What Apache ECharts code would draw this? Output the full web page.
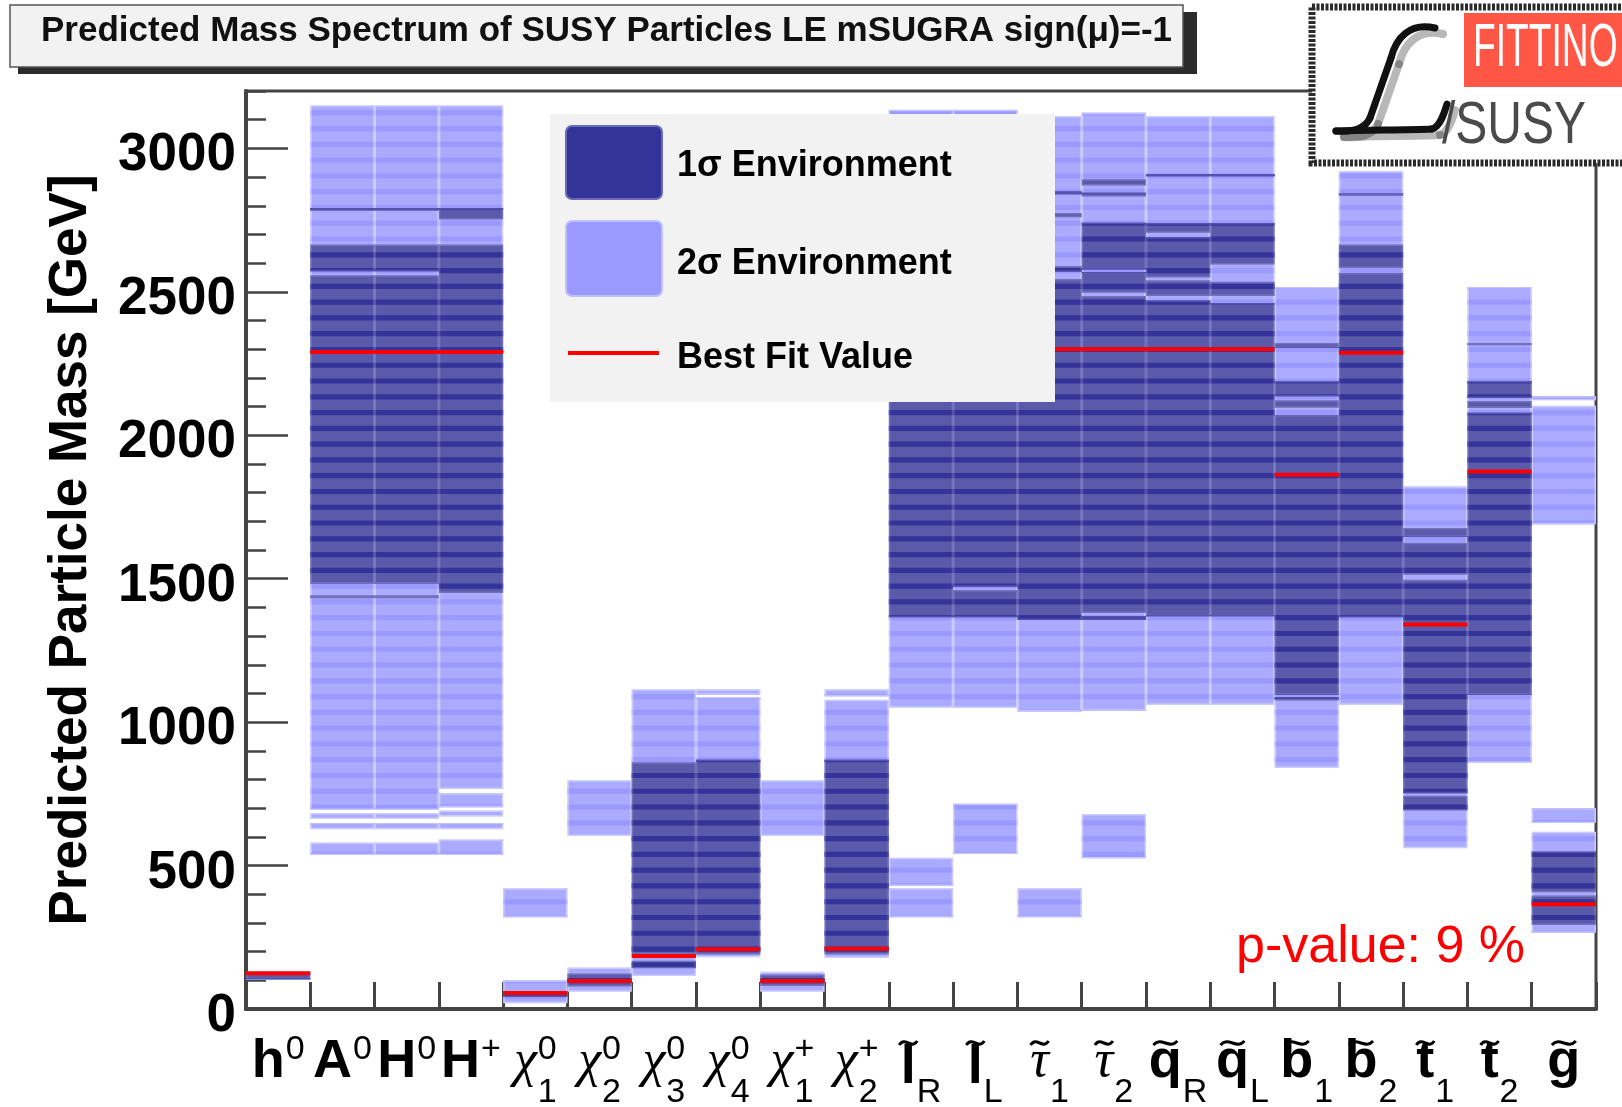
<!DOCTYPE html>
<html>
<head>
<meta charset="utf-8">
<script src="https://cdn.jsdelivr.net/npm/echarts@6/dist/echarts.min.js"></script>
<style>
  html, body { margin: 0; padding: 0; background: #ffffff; }
  #chart { width: 1622px; height: 1107px; }
</style>
</head>
<body>
<div id="chart"></div>
<script>
// Particle categories along the x axis
const categories = ['h0', 'A0', 'H0', 'H+', 'chi1_0', 'chi2_0', 'chi3_0', 'chi4_0', 'chi1_+', 'chi2_+',
  'slR', 'slL', 'stau1', 'stau2', 'sqR', 'sqL', 'sb1', 'sb2', 'st1', 'st2', 'gluino'];

// Label pieces: main symbol, superscript, subscript, tilde flag
const labelBase  = ['h', 'A', 'H', 'H', 'χ', 'χ', 'χ', 'χ', 'χ', 'χ', 'l', 'l', 'τ', 'τ', 'q', 'q', 'b', 'b', 't', 't', 'g'];
const labelSup   = ['0', '0', '0', '+', '0', '0', '0', '0', '+', '+', '', '', '', '', '', '', '', '', '', '', ''];
const labelSub   = ['', '', '', '', '1', '2', '3', '4', '1', '2', 'R', 'L', '1', '2', 'R', 'L', '1', '2', '1', '2', ''];
const labelTilde = [false, false, false, false, false, false, false, false, false, false,
  true, true, true, true, true, true, true, true, true, true, true];

// 2 sigma mass ranges [GeV] per particle
const sigma2Ranges = [
  [[101, 130]],
  [[537, 580], [627, 648], [662, 683], [694, 3150]],
  [[537, 580], [627, 648], [662, 683], [694, 3150]],
  [[537, 590], [627, 648], [671, 692], [703, 752], [767, 3150]],
  [[20, 99], [320, 421]],
  [[60, 145], [603, 797]],
  [[115, 1115]],
  [[180, 1088], [1095, 1115]],
  [[60, 130], [603, 797]],
  [[178, 1078], [1090, 1115]],
  [[320, 421], [430, 527], [1050, 3135]],
  [[540, 716], [1049, 3135]],
  [[320, 421], [1037, 3113]],
  [[525, 680], [1040, 3124]],
  [[1060, 3113]],
  [[1060, 3113]],
  [[840, 2517]],
  [[1060, 2921]],
  [[560, 1822]],
  [[858, 2517]],
  [[266, 618], [648, 700], [1690, 2103], [2122, 2136]]
];

// 1 sigma mass ranges [GeV] per particle
const sigma1Ranges = [
  [[104, 127]],
  [[1432, 1442], [1482, 2558], [2572, 2665], [2782, 2792]],
  [[1432, 1442], [1482, 2558], [2572, 2665], [2782, 2792]],
  [[1450, 2665], [2752, 2792]],
  [[42, 62]],
  [[78, 124]],
  [[142, 168], [192, 860]],
  [[190, 869]],
  [[80, 120]],
  [[190, 869]],
  [[1366, 2740]],
  [[1366, 1461], [1472, 2740]],
  [[1356, 2545], [2570, 2590], [2760, 2775], [2840, 2850]],
  [[1357, 1370], [1380, 2485], [2497, 2569], [2578, 2741], [2832, 2845], [2871, 2892]],
  [[1369, 2470], [2485, 2540], [2550, 2690], [2706, 2740], [2903, 2911]],
  [[1369, 2461], [2485, 2535], [2595, 2740], [2903, 2911]],
  [[1075, 1088], [1095, 2071], [2096, 2122], [2136, 2188], [2305, 2322]],
  [[1366, 2566], [2583, 2665], [2834, 2843]],
  [[692, 743], [752, 1496], [1514, 1625], [1645, 1677]],
  [[1095, 2078], [2095, 2119], [2130, 2188], [2314, 2322]],
  [[293, 396], [407, 549]]
];

// Best fit mass [GeV] per particle
const bestFit = [125, 2290, 2290, 2290, 56, 98, 185, 208, 98, 210,
  2300, 2300, 2300, 2300, 2300, 2300, 1862, 2288, 1340, 1874, 365];

const yMajorTicks = [0, 500, 1000, 1500, 2000, 2500, 3000];
const pValueText = 'p-value: 9 %';

// Histogram bin texture (GeV): every bin has a darker band
const BIN = 55, BAND_FROM = 35, BAND_TO = 53;

function toRows(ranges) {
  const rows = [];
  ranges.forEach((list, i) => list.forEach(r => rows.push([i, r[0], r[1]])));
  return rows;
}

function bandRenderer(base, band, edge) {
  return function (params, api) {
    const i = api.value(0), lo = api.value(1), hi = api.value(2);
    const w = api.size([1, 0])[0];
    const pLo = api.coord([i, lo]), pHi = api.coord([i, hi]);
    const x = pLo[0] - w / 2;
    const children = [{
      type: 'rect',
      shape: { x: x, y: pHi[1], width: w, height: pLo[1] - pHi[1] },
      style: { fill: base }
    }];
    for (let k = Math.floor(lo / BIN); k * BIN <= hi; k++) {
      const s0 = Math.max(lo, k * BIN + BAND_FROM), s1 = Math.min(hi, k * BIN + BAND_TO);
      if (s1 <= s0) continue;
      const a = api.coord([i, s0]), b = api.coord([i, s1]);
      children.push({
        type: 'rect',
        shape: { x: x, y: b[1], width: w, height: a[1] - b[1] },
        style: { fill: band }
      });
    }
    children.push({
      type: 'rect',
      shape: { x: x + 0.75, y: pHi[1] + 0.75, width: w - 1.5, height: Math.max(0, pLo[1] - pHi[1] - 1.5) },
      style: { fill: 'none', stroke: edge, lineWidth: 1.5 }
    });
    return { type: 'group', children: children };
  };
}

function renderBest(params, api) {
  const i = api.value(0), v = api.value(1);
  const w = api.size([1, 0])[0];
  const p = api.coord([i, v]);
  return {
    type: 'rect',
    shape: { x: p[0] - w / 2, y: p[1] - 2, width: w, height: 4 },
    style: { fill: '#ff0000' }
  };
}

// Particle symbol labels under the axis
const measureCtx = document.createElement('canvas').getContext('2d');
function textWidth(str, font) {
  if (!str) return 0;
  measureCtx.font = font;
  return measureCtx.measureText(str).width;
}
const FONT_BASE = 'bold 54px "Liberation Sans"';
const FONT_GREEK = 'italic 52px "Liberation Serif"';
const FONT_SCRIPT = '34px "Liberation Sans"';

function renderLabel(params, api) {
  const i = api.value(0);
  const pt = api.coord([i, 0]);
  const cx = pt[0], axisY = pt[1];
  const base = labelBase[i];
  const greek = base === 'χ' || base === 'τ';
  const baseFont = greek ? FONT_GREEK : FONT_BASE;
  const bw = textWidth(base, baseFont);
  const sw = Math.max(textWidth(labelSup[i], FONT_SCRIPT), textWidth(labelSub[i], FONT_SCRIPT));
  const gap = sw > 0 ? 1 : 0;
  const x0 = cx - (bw + gap + sw) / 2;
  let baseline = axisY + 72;
  if (base === 'l') baseline = axisY + 78;
  if (greek) baseline = axisY + 71;
  const sizeBase = greek ? 52 : 54;
  const children = [{
    type: 'text',
    style: { text: base, x: x0, y: baseline - 0.3465 * sizeBase, font: baseFont, fill: '#000', align: 'left', verticalAlign: 'middle' }
  }];
  const sx = x0 + bw + gap;
  if (labelSup[i]) {
    children.push({
      type: 'text',
      style: { text: labelSup[i], x: sx, y: axisY + 52 - 0.3465 * 34, font: FONT_SCRIPT, fill: '#000', align: 'left', verticalAlign: 'middle' }
    });
  }
  if (labelSub[i]) {
    children.push({
      type: 'text',
      style: { text: labelSub[i], x: sx, y: axisY + 95 - 0.3465 * 34, font: FONT_SCRIPT, fill: '#000', align: 'left', verticalAlign: 'middle' }
    });
  }
  if (labelTilde[i]) {
    const tc = x0 + bw / 2, tw = Math.min(Math.max(bw * 0.8, 18), 24), ty = axisY + 34;
    children.push({
      type: 'bezierCurve',
      shape: { x1: tc - tw / 2, y1: ty + 2, x2: tc + tw / 2, y2: ty - 2, cpx1: tc - tw / 6, cpy1: ty - 7, cpx2: tc + tw / 6, cpy2: ty + 7 },
      style: { stroke: '#000', lineWidth: 3, fill: null }
    });
  }
  return { type: 'group', children: children };
}

// Script "L" of the logo, built from curve pieces
function logoStroke(dx, dy, color, width, z) {
  const seg = (x1, y1, c1x, c1y, c2x, c2y, x2, y2) => ({
    type: 'bezierCurve', z: z,
    shape: { x1: x1 + dx, y1: y1 + dy, cpx1: c1x + dx, cpy1: c1y + dy, cpx2: c2x + dx, cpy2: c2y + dy, x2: x2 + dx, y2: y2 + dy },
    style: { stroke: color, lineWidth: width, fill: null, lineCap: 'round' }
  });
  return [
    seg(1435, 28, 1410, 22, 1396, 38, 1391, 58),
    seg(1391, 58, 1384, 78, 1377, 98, 1370, 118),
    seg(1370, 118, 1364, 131, 1348, 132, 1336, 131),
    seg(1336, 131, 1370, 130, 1405, 130, 1432, 129),
    seg(1432, 129, 1440, 127, 1444, 114, 1447, 104)
  ];
}

const chart = echarts.init(document.getElementById('chart'), null, { renderer: 'canvas' });

const AXIS_COLOR = '#444444';
const option = {
  animation: false,
  backgroundColor: '#ffffff',
  grid: { left: 246, right: 26, top: 91, bottom: 98, show: true, borderColor: AXIS_COLOR, borderWidth: 3, backgroundColor: 'transparent' },
  xAxis: {
    type: 'category',
    data: categories,
    boundaryGap: true,
    axisLine: { lineStyle: { color: AXIS_COLOR, width: 4 } },
    axisTick: { show: true, inside: true, length: 27, interval: 0, alignWithLabel: false, lineStyle: { color: AXIS_COLOR, width: 3 } },
    axisLabel: { show: false },
    splitLine: { show: false }
  },
  yAxis: [{
    type: 'value', min: 0, max: 3200, interval: 500, position: 'left',
    axisLine: { show: true, lineStyle: { color: AXIS_COLOR, width: 4 } },
    axisTick: { show: true, inside: true, length: 42, customValues: yMajorTicks, lineStyle: { color: AXIS_COLOR, width: 2.5 } },
    axisLabel: { customValues: yMajorTicks, formatter: v => String(v), fontSize: 53, fontWeight: 'bold', color: '#000',
      fontFamily: 'Liberation Sans', margin: 10, verticalAlign: 'top', lineHeight: 15 },
    splitLine: { show: false },
    name: 'Predicted Particle Mass [GeV]',
    nameLocation: 'middle', nameRotate: 90, nameGap: 148,
    nameTextStyle: { fontSize: 53, fontWeight: 'bold', color: '#000', fontFamily: 'Liberation Sans' }
  }, {
    type: 'value', min: 0, max: 3200, interval: 100, position: 'left',
    axisLine: { show: false },
    axisTick: { show: true, inside: true, length: 20, lineStyle: { color: AXIS_COLOR, width: 2.5 } },
    axisLabel: { show: false },
    splitLine: { show: false }
  }],
  series: [
    {
      name: '2σ Environment', type: 'custom', yAxisIndex: 0,
      renderItem: bandRenderer('#aaaaff', '#9999ff', 'rgba(255,255,255,0.4)'),
      encode: { x: 0, y: [1, 2] }, data: toRows(sigma2Ranges), z: 2
    },
    {
      name: '1σ Environment', type: 'custom', yAxisIndex: 0,
      renderItem: bandRenderer('#5a5aaa', '#333399', 'rgba(200,200,255,0.22)'),
      encode: { x: 0, y: [1, 2] }, data: toRows(sigma1Ranges), z: 3
    },
    {
      name: 'Best Fit Value', type: 'custom', yAxisIndex: 0,
      renderItem: renderBest,
      encode: { x: 0, y: 1 }, data: bestFit.map((v, i) => [i, v]), z: 4
    },
    {
      name: 'labels', type: 'custom', yAxisIndex: 0, clip: false, silent: true,
      renderItem: renderLabel,
      encode: { x: 0, y: 1 }, data: categories.map((c, i) => [i, 0]), z: 5
    }
  ],
  graphic: [
    // title box with drop shadow
    { type: 'rect', z: 100, shape: { x: 18, y: 12, width: 1179, height: 62 }, style: { fill: '#2b2b2b' } },
    { type: 'rect', z: 101, shape: { x: 10, y: 5, width: 1173, height: 62 }, style: { fill: '#f2f2f2', stroke: '#555', lineWidth: 1.5 } },
    { type: 'text', z: 102, style: { text: 'Predicted Mass Spectrum of SUSY Particles LE mSUGRA sign(μ)=-1', x: 41, y: 31,
        font: 'bold 35px "Liberation Sans"', fill: '#111', align: 'left', verticalAlign: 'middle' } },

    // logo
    { type: 'rect', z: 100, shape: { x: 1312, y: 7, width: 316, height: 156 }, style: { fill: '#ffffff', stroke: '#2a2a2a', lineWidth: 7, lineDash: [3, 1.5] } },
    { type: 'rect', z: 101, shape: { x: 1464, y: 13, width: 158, height: 74 }, style: { fill: '#ff5646' } },
    { type: 'text', z: 102, x: 1473, y: 49, scaleX: 0.6,
      style: { text: 'FITTINO', x: 0, y: 0, font: '62px "Liberation Sans"', fill: '#ffffff', align: 'left', verticalAlign: 'middle' } },
    { type: 'text', z: 102, x: 1442, y: 126, scaleX: 0.8,
      style: { text: '/SUSY', x: 0, y: 0, font: '60px "Liberation Sans"', fill: '#4a4a4a', align: 'left', verticalAlign: 'middle' } },
    ...logoStroke(8, 6, 'rgba(0,0,0,0.28)', 8, 101),
    ...logoStroke(0, 0, '#111111', 7, 102),

    // legend
    { type: 'rect', z: 100, shape: { x: 550, y: 114, width: 505, height: 288 }, style: { fill: '#f2f2f2' } },
    { type: 'rect', z: 101, shape: { x: 566, y: 126, width: 96, height: 73, r: 6 }, style: { fill: '#333399', stroke: '#6a6ab8', lineWidth: 2 } },
    { type: 'rect', z: 101, shape: { x: 566, y: 221, width: 96, height: 75, r: 6 }, style: { fill: '#9999ff', stroke: '#c0c0ff', lineWidth: 2 } },
    { type: 'rect', z: 101, shape: { x: 568, y: 351, width: 91, height: 4 }, style: { fill: '#ff0000' } },
    { type: 'text', z: 102, style: { text: '1σ Environment', x: 677, y: 166, font: 'bold 36px "Liberation Sans"', fill: '#000', align: 'left', verticalAlign: 'middle' } },
    { type: 'text', z: 102, style: { text: '2σ Environment', x: 677, y: 264, font: 'bold 36px "Liberation Sans"', fill: '#000', align: 'left', verticalAlign: 'middle' } },
    { type: 'text', z: 102, style: { text: 'Best Fit Value', x: 677, y: 358, font: 'bold 36px "Liberation Sans"', fill: '#000', align: 'left', verticalAlign: 'middle' } },

    // fit probability
    { type: 'text', z: 102, style: { text: pValueText, x: 1236, y: 948, font: '52px "Liberation Sans"', fill: '#ff0000', align: 'left', verticalAlign: 'middle' } }
  ]
};

chart.setOption(option);
</script>
</body>
</html>
